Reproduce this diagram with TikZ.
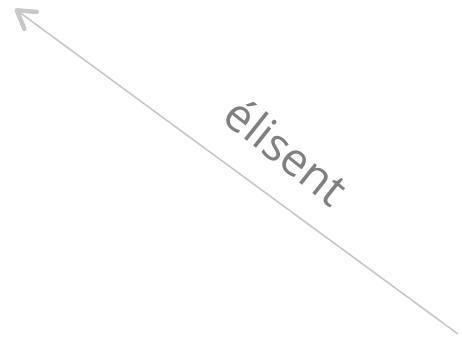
\documentclass[tikz,border=0pt]{standalone}
\usepackage{fontspec}
\setmainfont{Open Sans}
\usetikzlibrary{arrows.meta}
\definecolor{linegray}{HTML}{C8C8C8}
\definecolor{textgray}{HTML}{808080}
\tikzset{
  edgeline/.style={draw=linegray, line width=1.6pt, -{Straight Barb[length=17pt,width=21pt,line width=4.5pt,round]}},
  edgelabel/.style={text=textgray, font=\fontsize{46}{52}\selectfont, rotate=-38.5}
}
\begin{document}
\begin{tikzpicture}[x=1pt,y=-1pt]
\useasboundingbox (0,0) rectangle (462,340);
\coordinate (start) at (458,334);
\coordinate (end) at (15,9);
\draw[edgeline] (start) -- (end);
\node[edgelabel] (lbl) at (287,151) {élisent};
\end{tikzpicture}
\end{document}
